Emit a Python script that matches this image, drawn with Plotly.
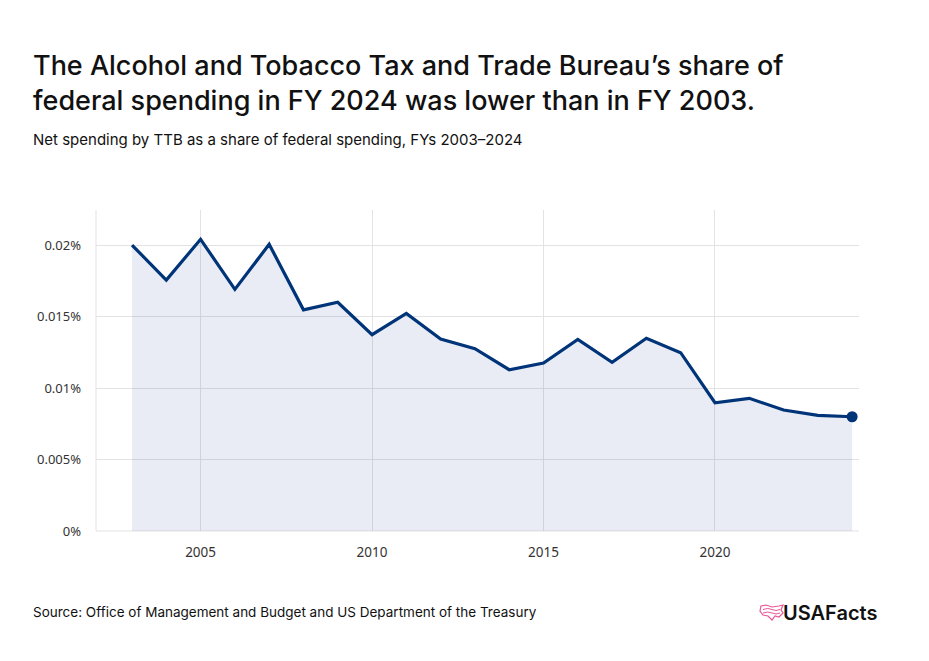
import plotly.graph_objects as go

years = list(range(2003, 2025))
share_pct = [0.0200, 0.01755, 0.0204, 0.0169, 0.02005, 0.01547, 0.0160, 0.01373,
             0.01522, 0.01343, 0.01275, 0.01128, 0.01175, 0.0134, 0.0118, 0.01348,
             0.01247, 0.00897, 0.00928, 0.00846, 0.00809, 0.00799]
y_tickvals = [0, 0.005, 0.01, 0.015, 0.02]
y_ticktext = ["0%", "0.005%", "0.01%", "0.015%", "0.02%"]
x_tickvals = [2005, 2010, 2015, 2020]

NAVY = "#003478"
L, R, T, B = 96, 70, 210, 130
W, H = 929, 661
PW, PH = W - L - R, H - T - B


def px(x):
    return (x - L) / PW


def py(y):
    return (H - B - y) / PH


fig = go.Figure()
fig.add_trace(go.Scatter(
    x=years, y=share_pct, mode="lines", fill="tozeroy",
    fillcolor="rgba(40,70,150,0.10)",
    line=dict(color=NAVY, width=3.2), hoverinfo="skip", showlegend=False))
fig.add_trace(go.Scatter(
    x=[years[-1]], y=[share_pct[-1]], mode="markers",
    marker=dict(color=NAVY, size=11), hoverinfo="skip", showlegend=False))

fig.update_layout(
    width=W, height=H,
    margin=dict(l=L, r=R, t=T, b=B),
    paper_bgcolor="white", plot_bgcolor="white",
    font=dict(family="Noto Sans, Open Sans, sans-serif", color="#222"),
    xaxis=dict(range=[2001.95, 2024.2], tickvals=x_tickvals, showgrid=True,
               gridcolor="#e3e3e6", gridwidth=1, zeroline=False, showline=False,
               ticks="", ticklabelstandoff=11, tickfont=dict(size=13.5, color="#333")),
    yaxis=dict(range=[0, 0.02245], tickvals=y_tickvals, ticktext=y_ticktext,
               showgrid=True, gridcolor="#e3e3e6", gridwidth=1, zeroline=False,
               showline=False, ticks="", ticklabelstandoff=14,
               tickfont=dict(size=13, color="#333")),
)
fig.add_shape(type="line", xref="paper", yref="paper", x0=0, x1=0, y0=0, y1=1,
              line=dict(color="#e3e3e6", width=1), layer="below")
fig.add_shape(type="line", xref="paper", yref="paper", x0=0, x1=1, y0=0, y1=0,
              line=dict(color="#e3e3e6", width=1), layer="below")

fig.add_annotation(
    text="The Alcohol and Tobacco Tax and Trade Bureau’s share of<br>federal spending in FY 2024 was lower than in FY 2003.",
    xref="paper", yref="paper", x=px(31), y=py(47), xanchor="left", yanchor="top",
    showarrow=False, align="left",
    font=dict(family="Inter, Roboto, sans-serif", size=27, color="#111", weight=500))
fig.add_annotation(
    text="Net spending by TTB as a share of federal spending, FYs 2003–2024",
    xref="paper", yref="paper", x=px(31), y=py(128), xanchor="left", yanchor="top",
    showarrow=False, align="left",
    font=dict(family="Inter, Roboto, sans-serif", size=15, color="#111"))
fig.add_annotation(
    text="Source: Office of Management and Budget and US Department of the Treasury",
    xref="paper", yref="paper", x=px(31), y=py(602), xanchor="left", yanchor="top",
    showarrow=False, align="left",
    font=dict(family="Inter, Roboto, sans-serif", size=13.5, color="#111"))
fig.add_annotation(
    text="USAFacts",
    xref="paper", yref="paper", x=px(879), y=py(599), xanchor="right", yanchor="top",
    showarrow=False, align="right",
    font=dict(family="Inter, Roboto, sans-serif", size=20, color="#111", weight=600))

# simple pink map-like logo mark
outline = [(761, 606), (766, 605), (772, 607), (779, 606), (783, 605),
           (781, 610), (783, 613), (779, 617), (775, 616), (772, 620),
           (768, 616), (763, 615), (760, 611)]
path = "M " + " L ".join("%f %f" % (px(a), py(b)) for a, b in outline) + " Z"
fig.add_shape(type="path", xref="paper", yref="paper", path=path,
              line=dict(color="#e8559b", width=1.2), fillcolor="rgba(0,0,0,0)")
for yy in (609.5, 613):
    fig.add_shape(type="path", xref="paper", yref="paper",
                  path="M %f %f Q %f %f %f %f T %f %f" % (
                      px(763), py(yy), px(768), py(yy - 2), px(772), py(yy),
                      px(780), py(yy)),
                  line=dict(color="#e8559b", width=1))

fig.write_html("out.html")
